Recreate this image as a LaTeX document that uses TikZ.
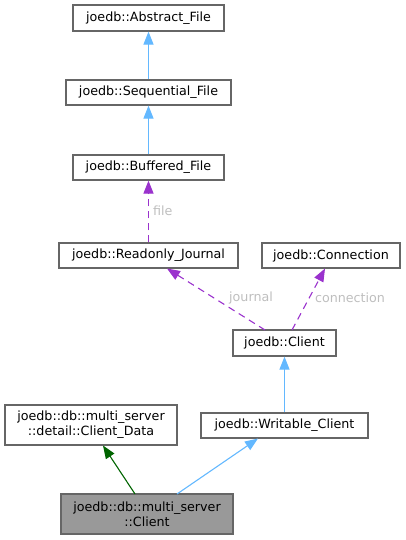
\documentclass[tikz,border=0pt]{standalone}
\usepackage{fontspec}
\setmainfont{DejaVu Sans}
\usetikzlibrary{arrows.meta}
\definecolor{edgeblue}{HTML}{63B8FF}
\definecolor{edgepurple}{HTML}{9A32CD}
\definecolor{edgegreen}{HTML}{006400}
\definecolor{boxgray}{HTML}{666666}
\definecolor{fillgray}{HTML}{999999}
\definecolor{labelgray}{HTML}{BEBEBE}
\tikzset{
  cls/.style={draw=boxgray, line width=1.2pt, fill=white, inner sep=0pt, align=center,
    font=\fontsize{12.7}{15}\selectfont},
  inherit/.style={draw=edgeblue, line width=1.1pt, -{Triangle[length=13pt,width=10pt]}},
  usage/.style={draw=edgepurple, line width=1.1pt, dash pattern=on 7pt off 5pt, -{Triangle[length=13pt,width=10pt]}},
  priv/.style={draw=edgegreen, line width=1.1pt, -{Triangle[length=13pt,width=10pt]}},
  elabel/.style={text=labelgray, font=\fontsize{12.7}{15}\selectfont, inner sep=0pt},
}
\begin{document}
\begin{tikzpicture}[x=1pt,y=-1pt]
\useasboundingbox (0,0) rectangle (406,540);
\node[cls, minimum width=151pt, minimum height=26pt] (abs) at (148.5,18) {joedb::Abstract\_File};
\node[cls, minimum width=165pt, minimum height=25pt] (seq) at (148.5,92.5) {joedb::Sequential\_File};
\node[cls, minimum width=151pt, minimum height=25pt] (buf) at (148.5,167.5) {joedb::Buffered\_File};
\node[cls, minimum width=179pt, minimum height=25pt] (roj) at (148.5,255.5) {joedb::Readonly\_Journal};
\node[cls, minimum width=138pt, minimum height=25pt] (con) at (331,255.5) {joedb::Connection};
\node[cls, minimum width=103pt, minimum height=26pt] (cli) at (284.5,343) {joedb::Client};
\node[cls, minimum width=172pt, minimum height=40pt] (cd) at (91,425) {joedb::db::multi\_server\\::detail::Client\_Data};
\node[cls, minimum width=167pt, minimum height=25pt] (wc) at (284.5,425.5) {joedb::Writable\_Client};
\node[cls, fill=fillgray, minimum width=172pt, minimum height=40pt] (mc) at (147,514) {joedb::db::multi\_server\\::Client};

\draw[inherit] (seq.north) -- (abs.south);
\draw[inherit] (buf.north) -- (seq.south);
\draw[usage] (roj.north) -- (buf.south);
\node[elabel, anchor=west] (lfile) at (153,211) {file};
\draw[usage] (265,330) coordinate (jstart) -- (167,268.5) coordinate (jend);
\draw[usage] (292,330) coordinate (cstart) -- (325,268.5) coordinate (cend);
\node[elabel] (ljour) at (251,298) {journal};
\node[elabel] (lconn) at (350,298) {connection};
\draw[inherit] (wc.north) -- (cli.south);
\draw[priv] (135,494) coordinate (gstart) -- (103,445.5) coordinate (gend);
\draw[inherit] (177,494) coordinate (bstart) -- (258,438.5) coordinate (bend);
\end{tikzpicture}
\end{document}
